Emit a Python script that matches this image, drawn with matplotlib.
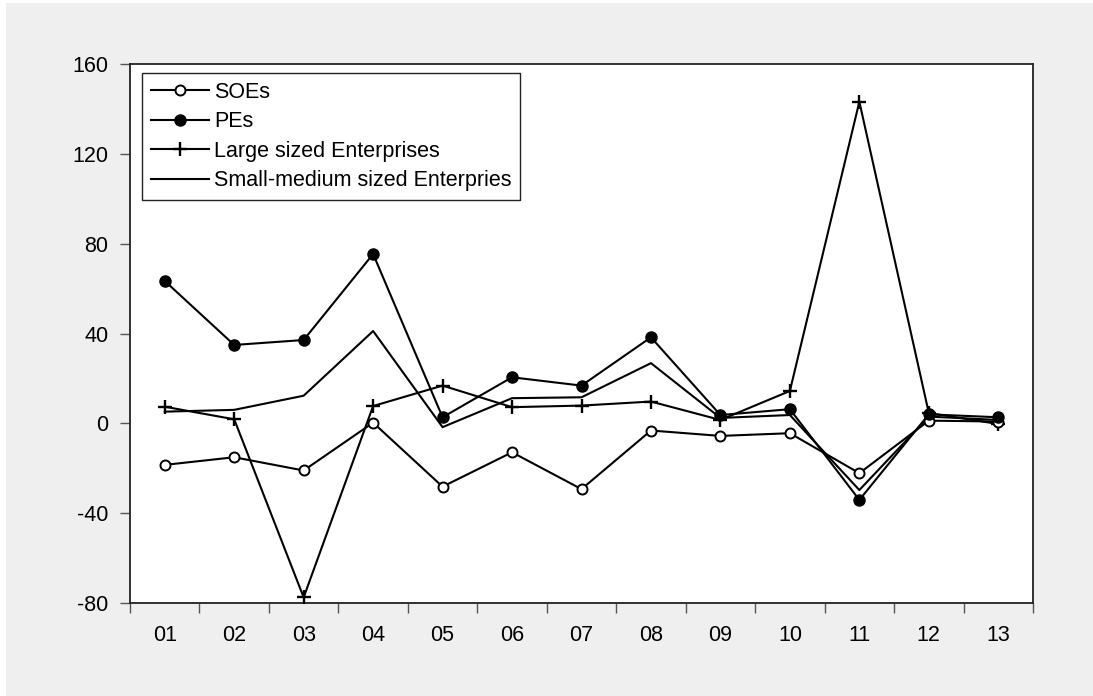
import matplotlib.pyplot as plt
from matplotlib.patches import Rectangle

# ---------------------------------------------------------------------
# DATA
# ---------------------------------------------------------------------
periods = ['01', '02', '03', '04', '05', '06', '07', '08', '09', '10', '11', '12', '13']

soes = [-18.5, -15.1, -21.0, 0.3, -28.2, -12.9, -29.3, -3.2, -5.6, -4.4, -22.2, 1.2, 0.8]
pes = [63.4, 34.9, 37.1, 75.4, 2.7, 20.5, 16.8, 38.3, 3.7, 6.3, -34.1, 4.0, 2.7]
large = [7.4, 1.8, -77.5, 7.7, 16.8, 7.2, 7.9, 9.7, 1.5, 14.4, 143.2, 4.6, -0.3]
small_medium = [5.2, 6.0, 12.3, 41.1, -1.7, 11.2, 11.6, 26.8, 2.4, 3.7, -29.7, 3.0, 1.5]

labels = ['SOEs', 'PEs', 'Large sized Enterprises', 'Small-medium sized Enterpries']

y_ticks = [-80, -40, 0, 40, 80, 120, 160]

BG = '#efefef'
FS = 15.5
plt.rcParams['font.family'] = ['Liberation Sans', 'DejaVu Sans']


def main() -> None:
    fig = plt.figure(figsize=(10.93, 6.96), dpi=100, facecolor='white')
    fig.patches.append(Rectangle((6 / 1093, 0), 1, 1 - 3 / 696,
                                 transform=fig.transFigure, facecolor=BG,
                                 edgecolor='none', zorder=-10))
    ax = fig.add_axes([130 / 1093, 93 / 696, 903 / 1093, 539 / 696])
    ax.set_facecolor('white')

    x = list(range(len(periods)))
    lw = 1.5
    ax.plot(x, soes, '-', color='black', lw=lw, marker='o', ms=7.2,
            mfc='white', mec='black', mew=1.4, label=labels[0], zorder=4)
    ax.plot(x, pes, '-', color='black', lw=lw, marker='o', ms=8,
            mfc='black', mec='black', label=labels[1], zorder=4)
    ax.plot(x, large, '-', color='black', lw=lw, marker='+', ms=10.5,
            mew=1.7, label=labels[2], zorder=3)
    ax.plot(x, small_medium, '-', color='black', lw=lw, label=labels[3], zorder=3)

    ax.set_xlim(-0.5, len(periods) - 0.5)
    ax.set_ylim(-80, 160)

    # category boundaries as ticks, labels centred between them
    ax.set_xticks([i - 0.5 for i in range(len(periods) + 1)])
    ax.set_xticklabels([])
    ax.set_xticks(x, minor=True)
    ax.set_xticklabels(periods, minor=True)
    ax.tick_params(axis='x', which='major', direction='out', length=7.5,
                   width=1.0, color='#555555')
    ax.tick_params(axis='x', which='minor', length=0, pad=16, labelsize=FS)

    ax.set_yticks(y_ticks)
    ax.set_yticklabels([str(v) for v in y_ticks])
    ax.tick_params(axis='y', direction='out', length=7.5, width=1.0,
                   color='#555555', pad=8, labelsize=FS)

    for side in ['left', 'bottom', 'top', 'right']:
        ax.spines[side].set_linewidth(1.3)
        ax.spines[side].set_color('#222222')

    leg = ax.legend(loc='upper left', bbox_to_anchor=(12 / 903, 530 / 539),
                    borderaxespad=0, fontsize=FS, handlelength=2.7,
                    handletextpad=0.25, labelspacing=0.4, borderpad=0.4,
                    fancybox=False, framealpha=1, edgecolor='#222222')
    leg.get_frame().set_linewidth(1.0)

    fig.savefig('out.png', dpi=100, facecolor=fig.get_facecolor())
    plt.close(fig)


if __name__ == '__main__':
    main()
